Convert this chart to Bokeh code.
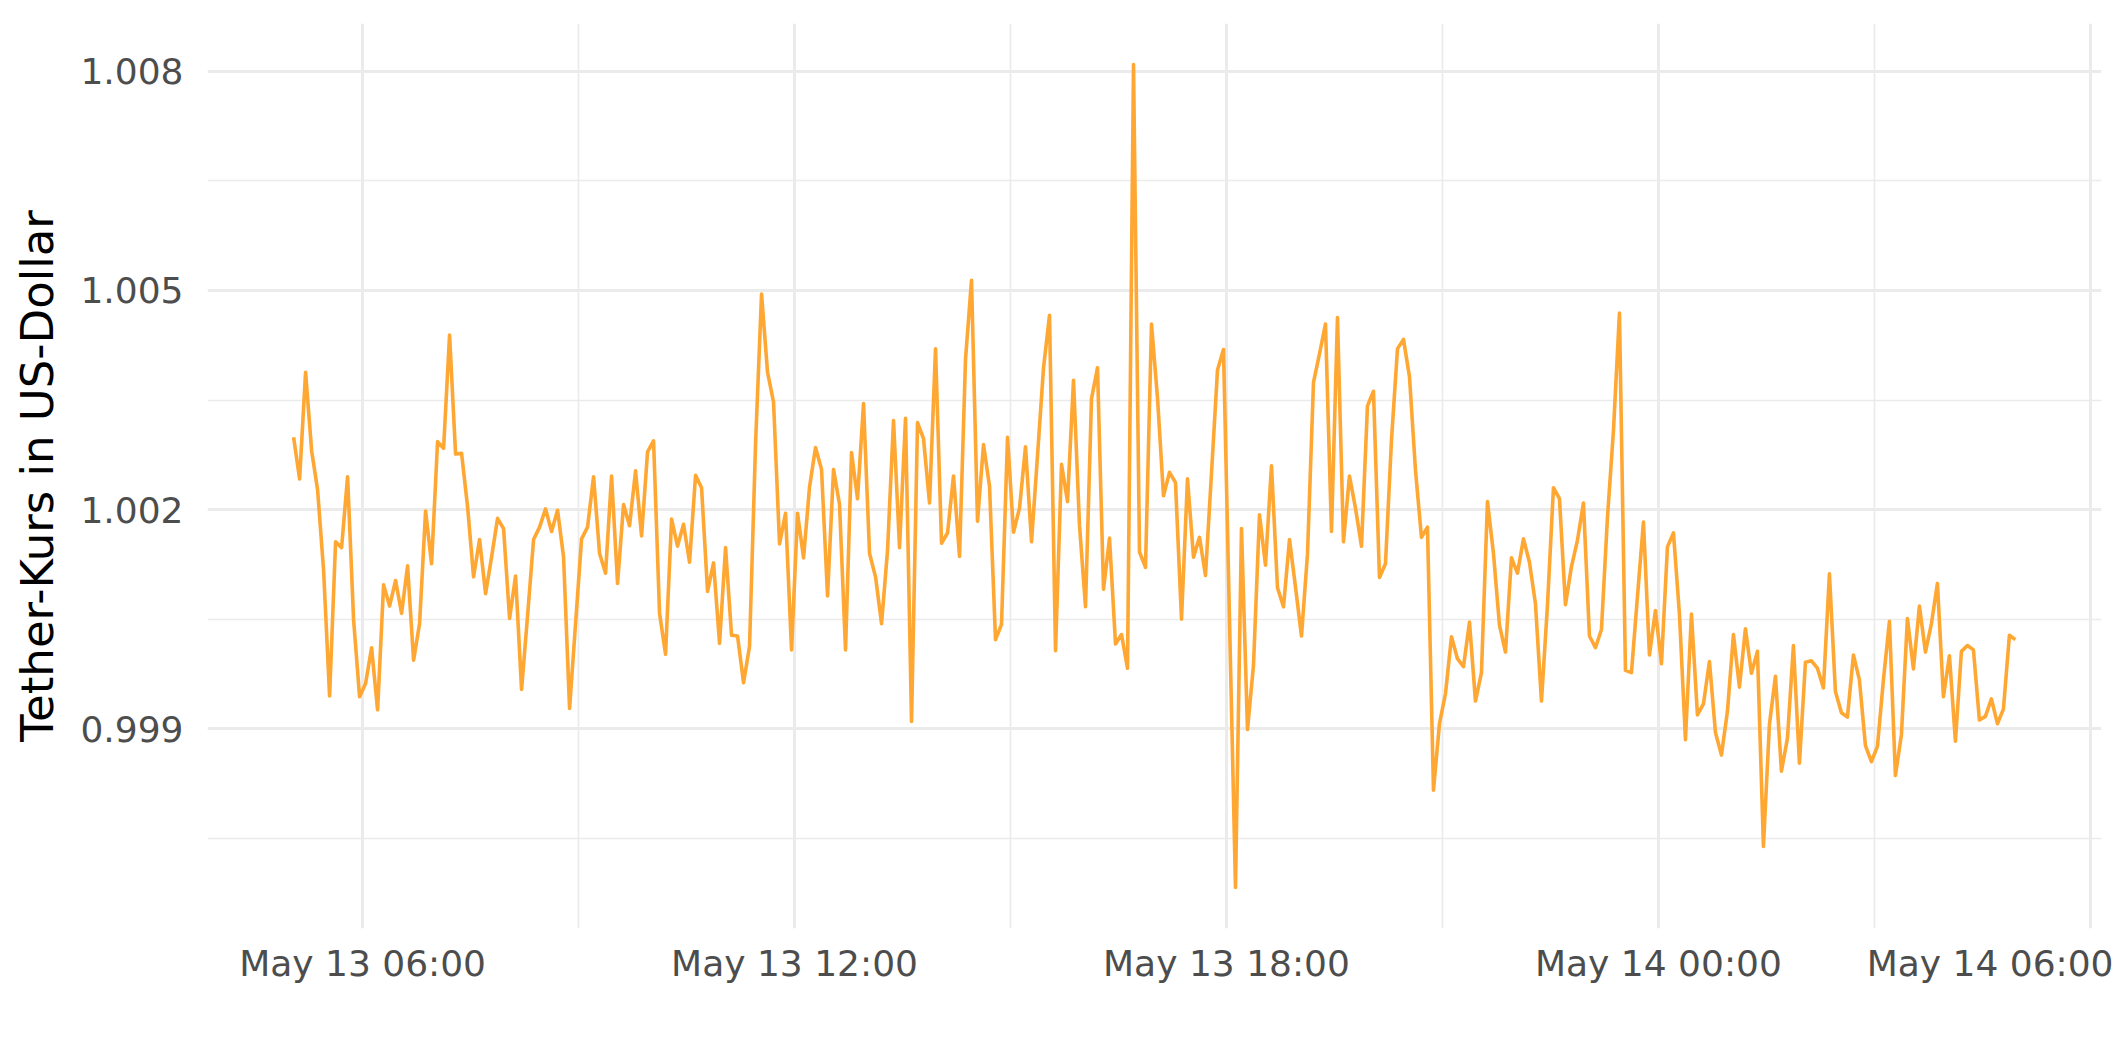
import pandas as pd
from bokeh.plotting import figure
from bokeh.models import Range1d, FixedTicker, DatetimeTickFormatter, PrintfTickFormatter, ColumnDataSource
from bokeh.embed import file_html
from bokeh.resources import INLINE

# ---- data (5-minute Tether price) ----
start_time = "2022-05-13 05:02:30"
step = "5min"
price = [
    1.00299, 1.00242, 1.00388, 1.00281, 1.00227, 1.00117, 0.99945, 1.00156, 1.00148, 1.00245,
    1.00049, 0.99944, 0.99962, 1.00011, 0.99926, 1.00097, 1.00068, 1.00103, 1.00058, 1.00123,
    0.99994, 1.00044, 1.00198, 1.00126, 1.00293, 1.00284, 1.00439, 1.00276, 1.00277, 1.00204,
    1.00108, 1.00159, 1.00085, 1.00135, 1.00188, 1.00174, 1.00051, 1.00109, 0.99954, 1.00055,
    1.00159, 1.00176, 1.00201, 1.00170, 1.00199, 1.00135, 0.99928, 1.00044, 1.00160, 1.00176,
    1.00245, 1.00140, 1.00113, 1.00246, 1.00099, 1.00207, 1.00178, 1.00253, 1.00164, 1.00279,
    1.00294, 1.00058, 1.00002, 1.00187, 1.00150, 1.00180, 1.00128, 1.00247, 1.00230, 1.00088,
    1.00127, 1.00017, 1.00148, 1.00028, 1.00027, 0.99963, 1.00013, 1.00290, 1.00495, 1.00388,
    1.00347, 1.00153, 1.00195, 1.00008, 1.00195, 1.00134, 1.00231, 1.00285, 1.00255, 1.00082,
    1.00255, 1.00207, 1.00008, 1.00278, 1.00215, 1.00345, 1.00140, 1.00108, 1.00044, 1.00144,
    1.00322, 1.00148, 1.00325, 0.99910, 1.00319, 1.00297, 1.00209, 1.00420, 1.00154, 1.00168,
    1.00246, 1.00136, 1.00406, 1.00514, 1.00184, 1.00289, 1.00232, 1.00022, 1.00043, 1.00299,
    1.00169, 1.00202, 1.00286, 1.00156, 1.00274, 1.00394, 1.00466, 1.00007, 1.00262, 1.00211,
    1.00377, 1.00178, 1.00067, 1.00352, 1.00394, 1.00091, 1.00161, 1.00016, 1.00029, 0.99983,
    1.00809, 1.00142, 1.00121, 1.00454, 1.00353, 1.00219, 1.00251, 1.00237, 1.00050, 1.00242,
    1.00135, 1.00162, 1.00110, 1.00250, 1.00391, 1.00419, 1.00050, 0.99683, 1.00174, 0.99899,
    0.99987, 1.00193, 1.00124, 1.00260, 1.00093, 1.00067, 1.00159, 1.00094, 1.00027, 1.00139,
    1.00374, 1.00413, 1.00454, 1.00170, 1.00463, 1.00156, 1.00246, 1.00202, 1.00150, 1.00342,
    1.00362, 1.00107, 1.00126, 1.00295, 1.00420, 1.00433, 1.00382, 1.00254, 1.00162, 1.00176,
    0.99816, 0.99907, 0.99948, 1.00026, 0.99996, 0.99985, 1.00046, 0.99938, 0.99977, 1.00211,
    1.00140, 1.00042, 1.00005, 1.00134, 1.00113, 1.00160, 1.00128, 1.00071, 0.99938, 1.00069,
    1.00230, 1.00215, 1.00070, 1.00122, 1.00158, 1.00209, 1.00027, 1.00011, 1.00036, 1.00189,
    1.00308, 1.00469, 0.99980, 0.99977, 1.00081, 1.00183, 1.00001, 1.00062, 0.99989, 1.00149,
    1.00168, 1.00057, 0.99885, 1.00057, 0.99919, 0.99934, 0.99992, 0.99895, 0.99864, 0.99924,
    1.00029, 0.99957, 1.00037, 0.99976, 1.00006, 0.99739, 0.99906, 0.99972, 0.99842, 0.99887,
    1.00014, 0.99853, 0.99991, 0.99993, 0.99983, 0.99956, 1.00112, 0.99951, 0.99922, 0.99916,
    1.00001, 0.99967, 0.99877, 0.99855, 0.99876, 0.99967, 1.00047, 0.99836, 0.99892, 1.00051,
    0.99982, 1.00068, 1.00005, 1.00044, 1.00099, 0.99944, 1.00000, 0.99883, 1.00006, 1.00014,
    1.00008, 0.99912, 0.99917, 0.99941, 0.99907, 0.99927, 1.00028, 1.00022,
]

y_ticks = [0.999, 1.002, 1.005, 1.008]
y_minor_ticks = [0.9975, 1.0005, 1.0035, 1.0065]
x_tick_times = ["2022-05-13 06:00", "2022-05-13 12:00", "2022-05-13 18:00",
                "2022-05-14 00:00", "2022-05-14 06:00"]
x_tick_labels = ["May 13 06:00", "May 13 12:00", "May 13 18:00",
                 "May 14 00:00", "May 14 06:00"]
x_minor_times = ["2022-05-13 03:00", "2022-05-13 09:00", "2022-05-13 15:00",
                 "2022-05-13 21:00", "2022-05-14 03:00"]
y_title = "Tether-Kurs in US-Dollar"

LINE_COLOR = "#FFA733"
GRID_COLOR = "#EBEBEB"
TEXT_GREY = "#4D4D4D"
FONT = "DejaVu Sans"

# ---- build ----
times = pd.date_range(start_time, periods=len(price), freq=step)
src = ColumnDataSource(dict(t=times, v=price))

t0, t1 = times[0], times[-1]
pad_t = (t1 - t0) * 0.05
vmin, vmax = min(price), max(price)
pad_v = (vmax - vmin) * 0.05

def to_ms(s):
    return pd.Timestamp(s).value / 1e6

x_tick_ms = [to_ms(s) for s in x_tick_times]
x_minor_ms = [to_ms(s) for s in x_minor_times]

p = figure(
    x_axis_type="datetime",
    frame_width=1894, frame_height=905,
    min_border_left=207, min_border_top=23, min_border_right=12, min_border_bottom=122,
    x_range=Range1d(t0 - pad_t, t1 + pad_t),
    y_range=Range1d(vmin - pad_v, vmax + pad_v),
    output_backend="svg", toolbar_location=None,
    background_fill_color="white", border_fill_color="white",
)
p.outline_line_color = None

p.line(x="t", y="v", source=src, line_color=LINE_COLOR, line_width=3.6, line_join="round")

# axes
fmt = "%b %d %H:%M"
p.xaxis.ticker = FixedTicker(ticks=x_tick_ms, minor_ticks=x_minor_ms)
p.xaxis.formatter = DatetimeTickFormatter(
    hours=fmt, hourmin=fmt, days=fmt, minutes=fmt, minsec=fmt, seconds=fmt,
)
p.xaxis.major_label_overrides = dict(zip(x_tick_ms, x_tick_labels))
p.yaxis.ticker = FixedTicker(ticks=y_ticks, minor_ticks=y_minor_ticks)
p.yaxis.formatter = PrintfTickFormatter(format="%.3f")

for ax in (p.xaxis, p.yaxis):
    ax.axis_line_color = None
    ax.major_tick_line_color = None
    ax.minor_tick_line_color = None
    ax.major_tick_out = 0
    ax.major_tick_in = 0
    ax.minor_tick_out = 0
    ax.minor_tick_in = 0
    ax.major_label_text_font = FONT
    ax.major_label_text_font_size = "36px"
    ax.major_label_text_color = TEXT_GREY

p.xaxis.major_label_standoff = 14
p.yaxis.major_label_standoff = 24

p.yaxis.axis_label = y_title
p.yaxis.axis_label_text_font = FONT
p.yaxis.axis_label_text_font_size = "45px"
p.yaxis.axis_label_text_font_style = "normal"
p.yaxis.axis_label_text_color = "black"
p.yaxis.axis_label_standoff = 13

# grids
for g in (p.xgrid, p.ygrid):
    g.grid_line_color = GRID_COLOR
    g.grid_line_width = 3.0
    g.minor_grid_line_color = GRID_COLOR
    g.minor_grid_line_width = 1.7

open("out.html", "w").write(file_html(p, INLINE))
